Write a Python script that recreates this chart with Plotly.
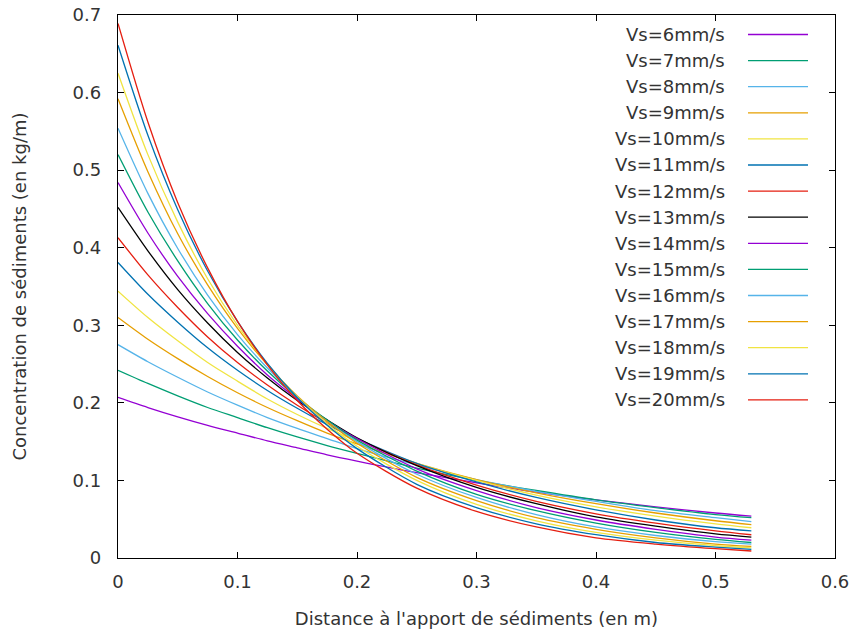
import plotly.graph_objects as go

# Distance (m) sample positions
distance = [0.0, 0.025, 0.05, 0.075, 0.1, 0.125, 0.15, 0.175, 0.2, 0.25, 0.3, 0.35, 0.4, 0.45, 0.5, 0.53]

# Concentration (kg/m), one list per settling velocity
vs6 = [0.207, 0.194, 0.182, 0.171, 0.161, 0.151, 0.142, 0.133, 0.125, 0.110, 0.097, 0.085, 0.075, 0.066, 0.058, 0.054]
vs7 = [0.242, 0.225, 0.209, 0.194, 0.181, 0.168, 0.156, 0.145, 0.135, 0.116, 0.100, 0.087, 0.075, 0.065, 0.056, 0.052]
vs8 = [0.275, 0.253, 0.233, 0.214, 0.197, 0.181, 0.167, 0.154, 0.141, 0.120, 0.101, 0.086, 0.073, 0.061, 0.052, 0.047]
vs9 = [0.310, 0.282, 0.257, 0.234, 0.213, 0.194, 0.177, 0.161, 0.147, 0.122, 0.101, 0.084, 0.070, 0.058, 0.048, 0.043]
vs10 = [0.344, 0.310, 0.280, 0.252, 0.228, 0.205, 0.185, 0.167, 0.151, 0.122, 0.100, 0.081, 0.066, 0.054, 0.044, 0.039]
vs11 = [0.381, 0.340, 0.304, 0.271, 0.242, 0.216, 0.193, 0.172, 0.154, 0.122, 0.098, 0.078, 0.062, 0.049, 0.039, 0.035]
vs12 = [0.413, 0.365, 0.323, 0.285, 0.252, 0.223, 0.197, 0.174, 0.154, 0.120, 0.094, 0.073, 0.057, 0.045, 0.035, 0.030]
vs13 = [0.452, 0.396, 0.346, 0.303, 0.265, 0.232, 0.203, 0.178, 0.155, 0.119, 0.091, 0.070, 0.053, 0.041, 0.031, 0.027]
vs14 = [0.484, 0.419, 0.363, 0.315, 0.273, 0.236, 0.205, 0.177, 0.154, 0.115, 0.087, 0.065, 0.049, 0.037, 0.027, 0.023]
vs15 = [0.520, 0.446, 0.383, 0.328, 0.281, 0.241, 0.207, 0.178, 0.152, 0.112, 0.082, 0.061, 0.045, 0.033, 0.024, 0.020]
vs16 = [0.554, 0.470, 0.399, 0.339, 0.288, 0.245, 0.208, 0.176, 0.150, 0.108, 0.078, 0.056, 0.040, 0.029, 0.021, 0.018]
vs17 = [0.592, 0.498, 0.418, 0.352, 0.296, 0.249, 0.209, 0.176, 0.148, 0.104, 0.074, 0.052, 0.037, 0.026, 0.018, 0.015]
vs18 = [0.625, 0.520, 0.433, 0.360, 0.300, 0.250, 0.208, 0.173, 0.144, 0.100, 0.069, 0.048, 0.033, 0.023, 0.016, 0.013]
vs19 = [0.661, 0.545, 0.449, 0.370, 0.305, 0.251, 0.207, 0.171, 0.141, 0.095, 0.065, 0.044, 0.030, 0.020, 0.014, 0.011]
vs20 = [0.689, 0.562, 0.458, 0.374, 0.305, 0.249, 0.203, 0.166, 0.135, 0.090, 0.060, 0.040, 0.026, 0.018, 0.012, 0.009]

series_values = [vs6, vs7, vs8, vs9, vs10, vs11, vs12, vs13, vs14, vs15, vs16, vs17, vs18, vs19, vs20]
series_names = ["Vs=%dmm/s" % v for v in range(6, 21)]

x_ticks = [0, 0.1, 0.2, 0.3, 0.4, 0.5, 0.6]
x_tick_labels = ["0", "0.1", "0.2", "0.3", "0.4", "0.5", "0.6"]
y_ticks = [0, 0.1, 0.2, 0.3, 0.4, 0.5, 0.6, 0.7]
y_tick_labels = ["0", "0.1", "0.2", "0.3", "0.4", "0.5", "0.6", "0.7"]

palette = ["#9400d3", "#009e73", "#56b4e9", "#e69f00", "#f0e442", "#0072b2", "#e51e10", "#000000"]

FONT = "DejaVu Sans"
TEXT = "#333333"

fig = go.Figure()
for i, (name, vals) in enumerate(zip(series_names, series_values)):
    fig.add_trace(go.Scatter(
        x=distance, y=vals, mode="lines", name=name,
        line=dict(color=palette[i % len(palette)], width=1.3, shape="spline", smoothing=0.8),
        showlegend=False,
    ))

# Figure fills the whole window; the page's default body margin is removed below.
W, H = 852, 636
# plot box in window pixels: left 118, right 835, top 15, bottom 558
L, T = 118, 15
R = W - 835
B = H - 558
pw, ph = W - L - R, H - T - B


def px_x(xw):
    return (xw - L) / pw


def px_y(yw):
    return (H - B - yw) / ph


annotations = []
shapes = []
for i, name in enumerate(series_names):
    yw = 34.5 + 26.1 * i
    annotations.append(dict(
        x=px_x(727), y=px_y(yw), xref="paper", yref="paper", text=name,
        showarrow=False, xanchor="right", yanchor="middle",
        font=dict(family=FONT, size=18, color=TEXT),
    ))
    shapes.append(dict(
        type="line", xref="paper", yref="paper",
        x0=px_x(748), x1=px_x(808), y0=px_y(yw), y1=px_y(yw),
        line=dict(color=palette[i % len(palette)], width=1.3),
    ))

axis_common = dict(
    showline=True, linecolor="#000000", linewidth=1.3, mirror="ticks",
    ticks="inside", ticklen=6, tickwidth=1.2, tickcolor="#000000",
    showgrid=False, zeroline=False, automargin=False,
    ticklabeloverflow="allow",
    tickfont=dict(family=FONT, size=18, color=TEXT),
)

fig.update_layout(
    width=W, height=H,
    margin=dict(l=L, r=R, t=T, b=B, pad=0, autoexpand=False),
    paper_bgcolor="white", plot_bgcolor="white",
    font=dict(family=FONT, size=18, color=TEXT),
    xaxis=dict(range=[0, 0.6], tickvals=x_ticks, ticktext=x_tick_labels,
               title=dict(text="Distance à l'apport de sédiments (en m)",
                          font=dict(family=FONT, size=18, color=TEXT), standoff=21),
               ticklabelstandoff=7, **axis_common),
    yaxis=dict(range=[0, 0.7], tickvals=y_ticks, ticktext=y_tick_labels,
               title=dict(text="Concentration de sédiments (en kg/m)",
                          font=dict(family=FONT, size=18, color=TEXT), standoff=41),
               ticklabelstandoff=12, **axis_common),
    annotations=annotations,
    shapes=shapes,
    showlegend=False,
)

fig.write_html(
    "out.html",
    config={"displayModeBar": False},
    post_script="document.body.style.margin='0';document.body.style.overflow='hidden';",
)
